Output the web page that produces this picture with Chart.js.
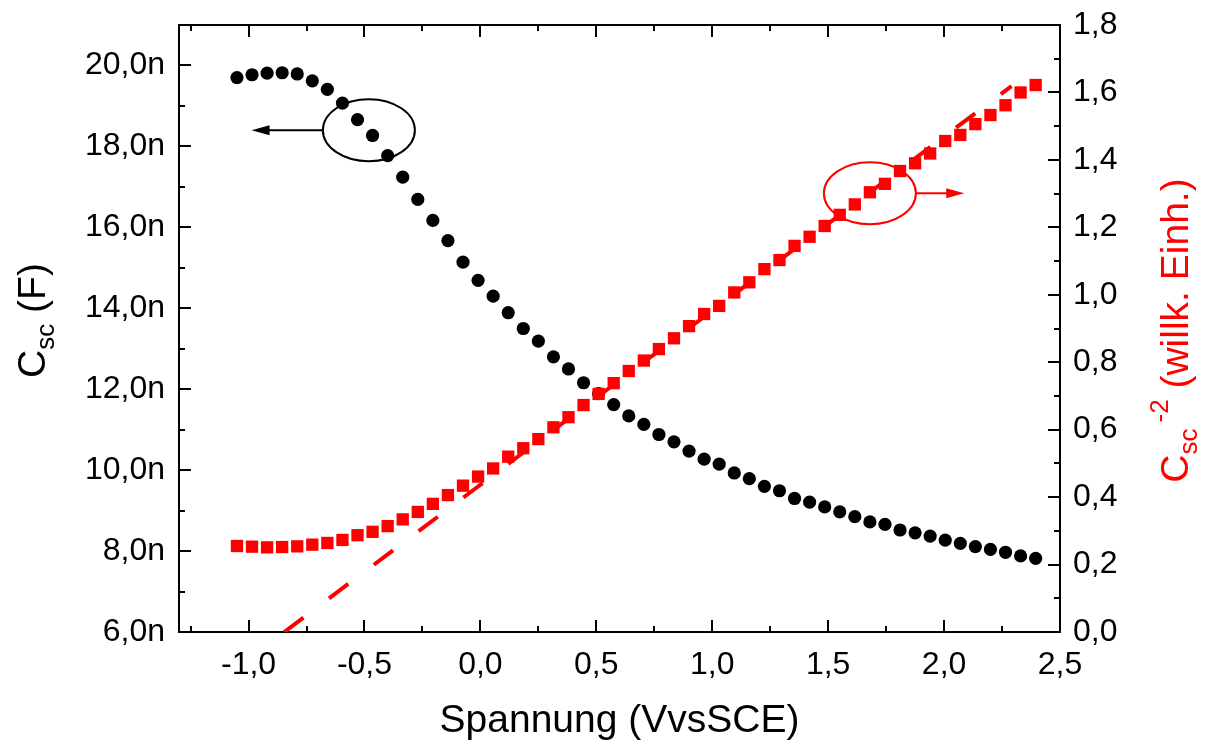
<!DOCTYPE html>
<html>
<head>
<meta charset="utf-8">
<title>Mott-Schottky</title>
<script src="https://cdn.jsdelivr.net/npm/chart.js@4/dist/chart.umd.min.js"></script>
<style>
  body { margin: 0; background: #fff; }
  #wrap { width: 1205px; height: 742px; }
</style>
</head>
<body>
<div id="wrap"><canvas id="msChart" width="1205" height="742"></canvas></div>
<script>
// potential in V vs SCE
const potential = [
  -1.05, -0.985, -0.92, -0.855, -0.79, -0.725, -0.66, -0.595, -0.53, -0.465,
  -0.40, -0.335, -0.27, -0.205, -0.14, -0.075, -0.01, 0.055, 0.12, 0.185,
  0.25, 0.315, 0.38, 0.445, 0.51, 0.575, 0.64, 0.705, 0.77, 0.835,
  0.90, 0.965, 1.03, 1.095, 1.16, 1.225, 1.29, 1.355, 1.42, 1.485,
  1.55, 1.615, 1.68, 1.745, 1.81, 1.875, 1.94, 2.005, 2.07, 2.135,
  2.20, 2.265, 2.33, 2.395
];
// space charge capacitance, nF
const capacitance = [
  19.70, 19.77, 19.81, 19.82, 19.79, 19.62, 19.41, 19.07, 18.66, 18.27,
  17.77, 17.24, 16.69, 16.17, 15.67, 15.14, 14.69, 14.30, 13.89, 13.50,
  13.19, 12.80, 12.50, 12.16, 11.89, 11.62, 11.34, 11.13, 10.88, 10.70,
  10.47, 10.27, 10.15, 9.93, 9.79, 9.60, 9.49, 9.30, 9.21, 9.09,
  8.97, 8.85, 8.72, 8.66, 8.52, 8.45, 8.37, 8.27, 8.19, 8.11,
  8.04, 7.97, 7.88, 7.82
];
// C^-2, arbitrary units
const invCapSq = [
  0.255, 0.253, 0.251, 0.252, 0.254, 0.259, 0.264, 0.273, 0.287, 0.297,
  0.314, 0.334, 0.356, 0.380, 0.406, 0.434, 0.461, 0.485, 0.520, 0.545,
  0.572, 0.607, 0.637, 0.673, 0.706, 0.738, 0.774, 0.805, 0.839, 0.871,
  0.907, 0.943, 0.967, 1.007, 1.037, 1.076, 1.103, 1.145, 1.172, 1.204,
  1.237, 1.268, 1.304, 1.329, 1.367, 1.390, 1.419, 1.456, 1.474, 1.506,
  1.533, 1.562, 1.600, 1.622
];
// linear fit of the Mott-Schottky line
const fitX = [-0.846, 2.291];
const fitY = [0.0, 1.619];

const xTicks = [-1.0, -0.5, 0.0, 0.5, 1.0, 1.5, 2.0, 2.5];
const leftTicks = [6, 8, 10, 12, 14, 16, 18, 20];
const rightTicks = [0, 0.2, 0.4, 0.6, 0.8, 1.0, 1.2, 1.4, 1.6, 1.8];

const FONT = "'Liberation Sans', Arial, Helvetica, sans-serif";
const RED = '#ff0000';

const comma = v => v.toFixed(1).replace('.', ',');

// draw a rotated or flat string made of runs with their own size / baseline shift
function drawRuns(ctx, runs, x, y, angle, color) {
  ctx.save();
  ctx.translate(x, y);
  ctx.rotate(angle);
  ctx.fillStyle = color;
  ctx.textBaseline = 'alphabetic';
  ctx.textAlign = 'left';
  let total = 0;
  runs.forEach(r => {
    ctx.font = r.size + 'px ' + FONT;
    r.w = ctx.measureText(r.t).width;
    total += r.w + (r.gap || 0);
  });
  let cx = -total / 2;
  runs.forEach(r => {
    ctx.font = r.size + 'px ' + FONT;
    cx += r.gap || 0;
    ctx.fillText(r.t, cx, r.dy || 0);
    cx += r.w;
  });
  ctx.restore();
}

function arrow(ctx, x0, y, x1, color) {
  const dir = Math.sign(x1 - x0);
  ctx.strokeStyle = color;
  ctx.fillStyle = color;
  ctx.lineWidth = 2;
  ctx.beginPath();
  ctx.moveTo(x0, y);
  ctx.lineTo(x1 - dir * 14, y);
  ctx.stroke();
  ctx.beginPath();
  ctx.moveTo(x1, y);
  ctx.lineTo(x1 - dir * 18, y - 5);
  ctx.lineTo(x1 - dir * 18, y + 5);
  ctx.closePath();
  ctx.fill();
}

const frame = {
  id: 'frame',
  afterDraw(chart) {
    const { ctx, chartArea: a, scales } = chart;
    const { x, y, y2 } = scales;
    ctx.save();
    ctx.strokeStyle = '#000';
    ctx.lineWidth = 2;
    // top edge of the box
    ctx.beginPath();
    ctx.moveTo(a.left, a.top);
    ctx.lineTo(a.right, a.top);
    ctx.stroke();

    // inward ticks
    const tick = (x0, y0, x1, y1) => {
      ctx.beginPath();
      ctx.moveTo(x0, y0);
      ctx.lineTo(x1, y1);
      ctx.stroke();
    };
    for (let v = -1.25; v < x.max; v += 0.25) {
      const px = Math.round(x.getPixelForValue(v));
      const len = Math.abs(v * 2 - Math.round(v * 2)) < 1e-6 ? 12 : 6;
      tick(px, a.bottom, px, a.bottom - len);
      tick(px, a.top, px, a.top + len);
    }
    for (let v = 6; v <= y.max + 1e-6; v += 1) {
      const py = Math.round(y.getPixelForValue(v));
      tick(a.left, py, a.left + (v % 2 === 0 ? 12 : 6), py);
    }
    for (let i = 0; i <= 18; i++) {
      const py = Math.round(y2.getPixelForValue(i / 10));
      tick(a.right, py, a.right - (i % 2 === 0 ? 12 : 6), py);
    }

    // markers pointing each curve to its axis
    let cx = x.getPixelForValue(-0.481), cy = y.getPixelForValue(18.40);
    ctx.beginPath();
    ctx.ellipse(cx, cy, 46, 31, 0, 0, Math.PI * 2);
    ctx.stroke();
    arrow(ctx, cx - 46, cy, x.getPixelForValue(-0.987), '#000');

    cx = x.getPixelForValue(1.680); cy = y2.getPixelForValue(1.301);
    ctx.strokeStyle = RED;
    ctx.beginPath();
    ctx.ellipse(cx, cy, 46, 31, 0, 0, Math.PI * 2);
    ctx.stroke();
    arrow(ctx, cx + 46, cy, x.getPixelForValue(2.087), RED);

    // axis titles
    const midX = (a.left + a.right) / 2;
    const midY = (a.top + a.bottom) / 2;
    drawRuns(ctx, [{ t: 'Spannung (VvsSCE)', size: 39 }], midX, 732, 0, '#000');
    drawRuns(ctx, [
      { t: 'C', size: 39 },
      { t: 'sc', size: 26, dy: 9 },
      { t: ' (F)', size: 39 }
    ], 45, midY - 8, -Math.PI / 2, '#000');
    drawRuns(ctx, [
      { t: 'C', size: 39 },
      { t: 'sc', size: 26, dy: 9 },
      { t: '-2', size: 26, dy: -20, gap: 6 },
      { t: ' (willk. Einh.)', size: 39 }
    ], 1188, midY + 2, -Math.PI / 2, RED);
    ctx.restore();
  }
};

const tickFont = { family: FONT, size: 32 };

// fixed axis sizes so the plot box sits where it should; label overflow is ignored
const fitSide = w => s => { s.width = w; s.paddingTop = 0; s.paddingBottom = 0; };

new Chart(document.getElementById('msChart'), {
  type: 'scatter',
  data: {
    datasets: [
      {
        label: 'Csc^-2',
        data: potential.map((v, i) => ({ x: v, y: invCapSq[i] })),
        yAxisID: 'y2',
        pointStyle: 'rect',
        pointRadius: 8.7,
        backgroundColor: RED,
        borderWidth: 0
      },
      {
        label: 'fit',
        data: fitX.map((v, i) => ({ x: v, y: fitY[i] })),
        yAxisID: 'y2',
        showLine: true,
        borderColor: RED,
        borderWidth: 4,
        borderDash: [24, 32],
        borderCapStyle: 'butt',
        pointRadius: 0
      },
      {
        label: 'Csc',
        data: potential.map((v, i) => ({ x: v, y: capacitance[i] })),
        yAxisID: 'y',
        pointStyle: 'circle',
        pointRadius: 6.6,
        backgroundColor: '#000',
        borderWidth: 0
      }
    ]
  },
  options: {
    responsive: false,
    animation: false,
    devicePixelRatio: 1,
    events: [],
    layout: { padding: { top: 25, left: 0, right: 0, bottom: 0 } },
    plugins: { legend: { display: false }, tooltip: { enabled: false } },
    scales: {
      x: {
        type: 'linear',
        position: 'bottom',
        min: -1.3,
        max: 2.5,
        afterBuildTicks: s => { s.ticks = xTicks.map(v => ({ value: v })); },
        afterFit: s => { s.height = 110; s.paddingLeft = 0; s.paddingRight = 0; },
        grid: { display: false, drawTicks: false },
        border: { display: true, width: 2, color: '#000' },
        ticks: { font: tickFont, color: '#000', padding: 14, maxRotation: 0, callback: v => comma(v) }
      },
      y: {
        type: 'linear',
        position: 'left',
        min: 6,
        max: 21,
        afterBuildTicks: s => { s.ticks = leftTicks.map(v => ({ value: v })); },
        afterFit: fitSide(179),
        grid: { display: false, drawTicks: false },
        border: { display: true, width: 2, color: '#000' },
        ticks: { font: tickFont, color: '#000', padding: 14, callback: v => comma(v) + 'n' }
      },
      y2: {
        type: 'linear',
        position: 'right',
        min: 0,
        max: 1.8,
        afterBuildTicks: s => { s.ticks = rightTicks.map(v => ({ value: v })); },
        afterFit: fitSide(145),
        grid: { display: false, drawTicks: false },
        border: { display: true, width: 2, color: '#000' },
        ticks: { font: tickFont, color: '#000', padding: 13, callback: v => comma(v) }
      }
    }
  },
  plugins: [frame]
});
</script>
</body>
</html>
